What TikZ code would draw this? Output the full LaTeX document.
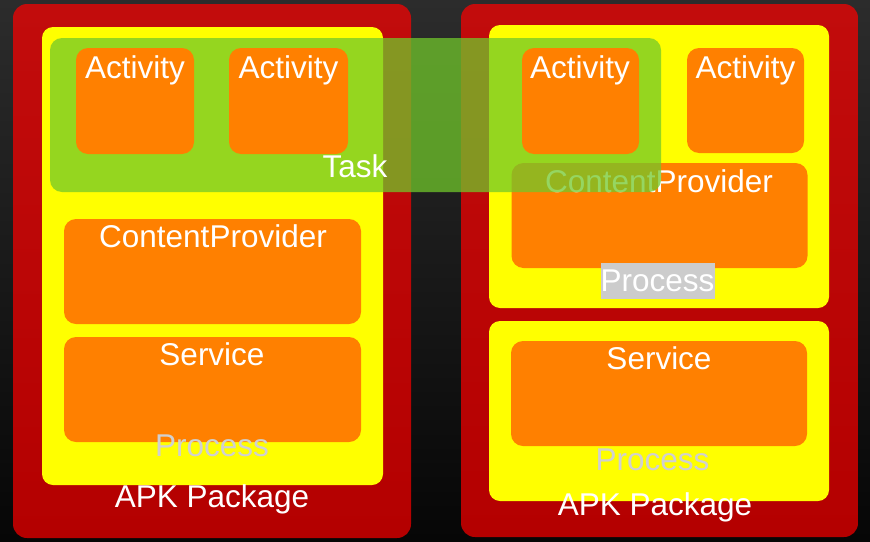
\documentclass[tikz,border=0pt]{standalone}
\usepackage{fontspec}
\setmainfont{Liberation Sans}
\definecolor{bgtop}{RGB}{44,44,44}
\definecolor{bgbot}{RGB}{6,6,6}
\definecolor{apkredtop}{RGB}{194,12,12}
\definecolor{apkredbot}{RGB}{180,0,0}
\definecolor{procyellow}{RGB}{255,255,0}
\definecolor{comporange}{RGB}{255,128,0}
\definecolor{taskgreen}{RGB}{113,200,43}
\definecolor{proclabel}{RGB}{208,208,208}
\definecolor{procbg}{RGB}{204,204,204}
\begin{document}
\begin{tikzpicture}[x=1pt,y=-1pt,
  frame/.style={inner sep=0pt, outer sep=0pt, draw=none},
  apkbox/.style={frame, rounded corners=14pt, top color=apkredtop, bottom color=apkredbot},
  procbox/.style={frame, rounded corners=11pt, fill=procyellow},
  compbox/.style={frame, rounded corners=12pt, fill=comporange},
  taskbox/.style={frame, rounded corners=12pt, fill=taskgreen, fill opacity=0.74},
  lbl/.style={inner sep=0pt, outer sep=0pt, anchor=base, text=white, font=\fontsize{31.5}{38}\selectfont},
  proctext/.style={lbl, text=proclabel},
  proctag/.style={lbl, anchor=center, fill=procbg, minimum width=114pt, minimum height=36pt}
]
\shade[top color=bgtop, bottom color=bgbot] (0,0) rectangle (870,541);
\useasboundingbox (0,0) rectangle (870,541);

% APK packages
\node[apkbox, minimum width=398pt, minimum height=534pt] (lred) at (212,271) {};
\node[apkbox, minimum width=397pt, minimum height=533pt] (rred) at (659.5,270.5) {};

% processes
\node[procbox, minimum width=341pt, minimum height=458pt] (lproc) at (212.5,256) {};
\node[procbox, minimum width=340pt, minimum height=283pt] (rproc1) at (659,166.5) {};
\node[procbox, minimum width=340pt, minimum height=180pt] (rproc2) at (659,411) {};

% content providers and services
\node[compbox, minimum width=297pt, minimum height=105pt] (lcp) at (212.5,271.5) {};
\node[compbox, minimum width=297pt, minimum height=105pt] (lsvc) at (212.5,389.5) {};
\node[compbox, minimum width=296pt, minimum height=105pt] (rcp) at (659.5,215.5) {};
\node[compbox, minimum width=296pt, minimum height=105pt] (rsvc) at (659,393.5) {};

\node[lbl] (lcpt) at (213,247.5) {ContentProvider};
\node[lbl] (rcpt) at (659,192) {ContentProvider};
\node[lbl] (lsvct) at (212,365) {Service};
\node[lbl] (rsvct) at (659,369) {Service};

% task overlay
\node[taskbox, minimum width=611pt, minimum height=154pt] (task) at (355.5,115) {};

% activities
\node[compbox, minimum width=118pt, minimum height=106pt] (la1) at (135,101) {};
\node[compbox, minimum width=119pt, minimum height=106pt] (la2) at (288.5,101) {};
\node[compbox, minimum width=117pt, minimum height=106pt] (ra1) at (580.5,101) {};
\node[compbox, minimum width=117pt, minimum height=105pt] (ra2) at (745.5,100.5) {};

\node[lbl] (la1t) at (135,78) {Activity};
\node[lbl] (la2t) at (288.5,78) {Activity};
\node[lbl] (ra1t) at (580,78) {Activity};
\node[lbl] (ra2t) at (745.5,78) {Activity};

\node[lbl] (taskt) at (355,177) {Task};

% process labels
\node[proctext] (lproct) at (212,456) {Process};
\node[proctag] (rproc1t) at (657.5,281) {Process};
\node[proctext] (rproc2t) at (652.5,470) {Process};

% package labels
\node[lbl] (lapk) at (212,507) {APK Package};
\node[lbl] (rapk) at (655,515) {APK Package};
\end{tikzpicture}
\end{document}
